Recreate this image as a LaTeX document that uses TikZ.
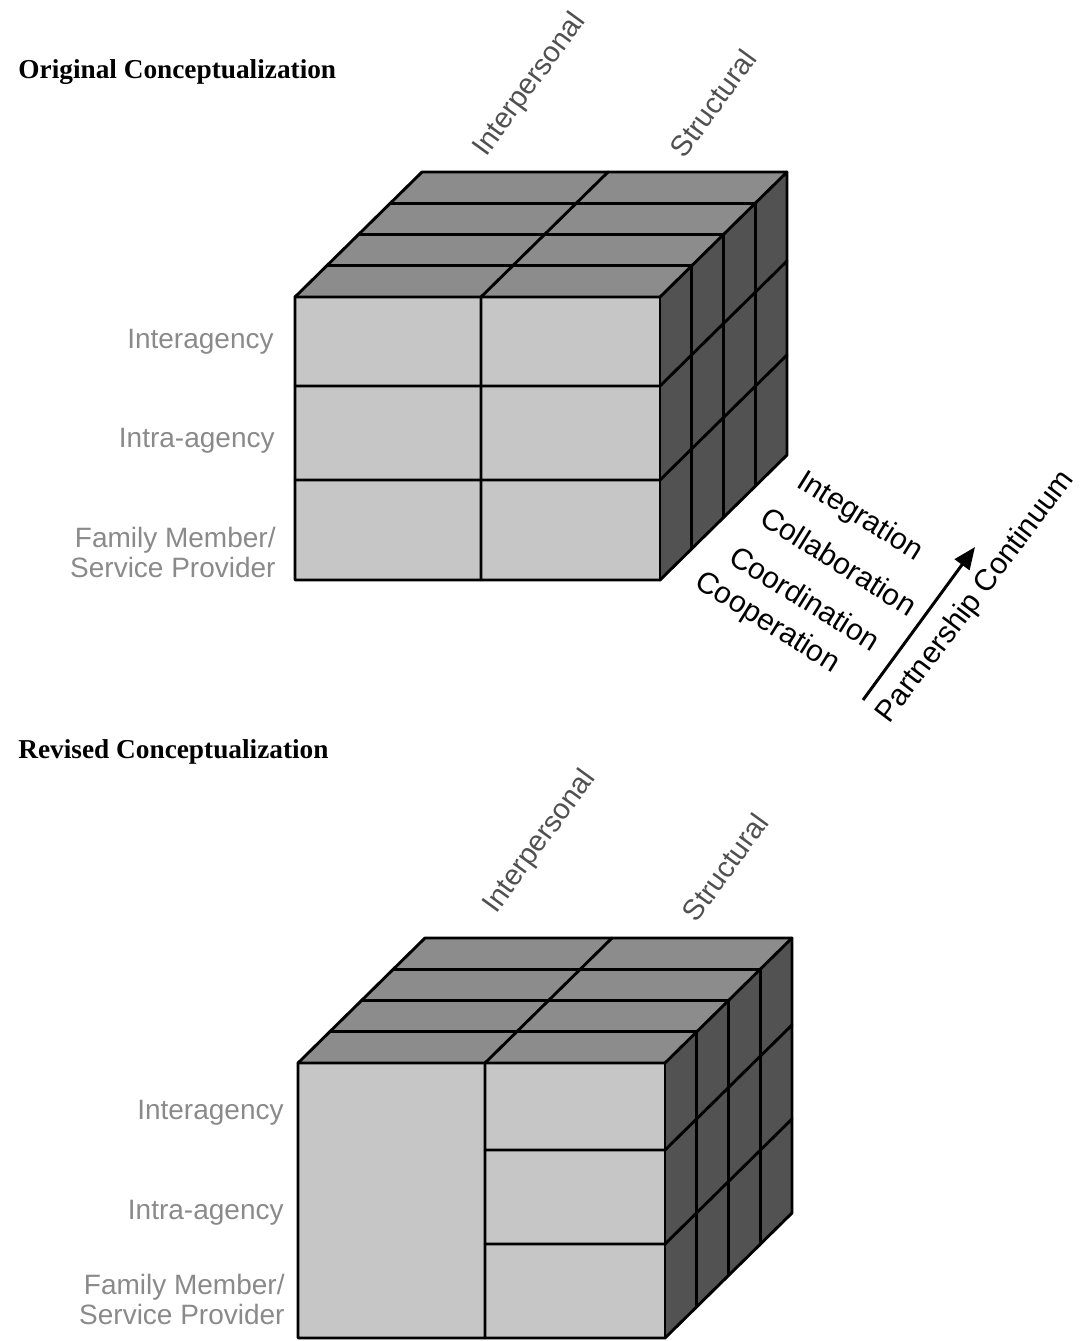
\documentclass[tikz,border=0pt]{standalone}
\usepackage{fontspec}
\setmainfont{Liberation Serif}
\setsansfont{Liberation Sans}
\usetikzlibrary{calc,arrows.meta}

\definecolor{frontgray}{HTML}{C6C6C6}
\definecolor{topgray}{HTML}{8C8C8C}
\definecolor{sidegray}{HTML}{525252}
\definecolor{rowlabel}{HTML}{8A8A8A}
\definecolor{collabel}{HTML}{505050}

\tikzset{
  edge/.style={line width=1.45pt, line join=round, line cap=round},
  title/.style={anchor=west, inner sep=0pt, font=\fontsize{13.65}{16}\selectfont\bfseries},
  rowname/.style={anchor=east, inner sep=0pt, align=right, text=rowlabel,
    font=\sffamily\fontsize{14}{15}\selectfont},
  colname/.style={inner sep=0pt, rotate=54, text=collabel,
    font=\sffamily\fontsize{14.5}{16}\selectfont},
  stagename/.style={inner sep=0pt, rotate=-32,
    font=\sffamily\fontsize{15}{16}\selectfont},
  axisname/.style={inner sep=0pt, rotate=53,
    font=\sffamily\fontsize{15}{16}\selectfont},
}

% Block cube: #1 left, #2 top, #3 right, #4 bottom, #5 first row line,
% #6 second row line, #7 middle column, #8 x where the front row lines start.
% Depth offset of the back faces is (127,-125).
\newcommand{\blockcube}[8]{%
  % faces
  \fill[topgray] (#1,#2) -- (#1+127,#2-125) -- (#3+127,#2-125) -- (#3,#2) -- cycle;
  \fill[sidegray] (#3,#2) -- (#3+127,#2-125) -- (#3+127,#4-125) -- (#3,#4) -- cycle;
  \fill[frontgray] (#1,#2) rectangle (#3,#4);
  % slices in depth
  \foreach \k in {1,2,3} {
    \draw[edge] (#1+\k*31.75,#2-\k*31.25) -- (#3+\k*31.75,#2-\k*31.25)
                -- (#3+\k*31.75,#4-\k*31.25);
  }
  % middle column on top and front
  \draw[edge] (#7+127,#2-125) -- (#7,#2) -- (#7,#4);
  % rows on the side and front
  \draw[edge] (#8,#5) -- (#3,#5) -- (#3+127,#5-125);
  \draw[edge] (#8,#6) -- (#3,#6) -- (#3+127,#6-125);
  % outline
  \draw[edge] (#1,#4) -- (#1,#2) -- (#1+127,#2-125) -- (#3+127,#2-125)
              -- (#3+127,#4-125) -- (#3,#4) -- cycle;
  \draw[edge] (#1,#2) -- (#3,#2) -- (#3+127,#2-125);
  \draw[edge] (#3,#2) -- (#3,#4);
}

\begin{document}
\begin{tikzpicture}[x=0.5pt,y=-0.5pt]
  \useasboundingbox (0,0) rectangle (1086,1341);

  % ---------- original conceptualization ----------
  \node[title] (origtitle) at (18,72) {Original Conceptualization};

  \blockcube{295}{297}{660}{580}{386}{480}{481}{295}

  \node[rowname] (oInter) at (274,342) {Interagency};
  \node[rowname] (oIntra) at (275,441) {Intra-agency};
  \node[rowname] (oFamily) at (276,552) {Family Member/\\Service Provider};

  \node[colname] (oInterp) at (530,85) {Interpersonal};
  \node[colname] (oStruct) at (713,103) {Structural};

  \node[stagename] (integ) at (860,517) {Integration};
  \node[stagename] (collab) at (839,561) {Collaboration};
  \node[stagename] (coord) at (805,598) {Coordination};
  \node[stagename] (coop) at (767,623) {Cooperation};

  \coordinate (arrtail) at (863,700);
  \coordinate (arrtip) at (975,547);
  \draw[line width=1.5pt, -{Triangle[length=11pt,width=9pt]}] (arrtail) -- (arrtip);
  \node[axisname] (continuum) at (976,597) {Partnership Continuum};

  % ---------- revised conceptualization ----------
  \node[title] (revtitle) at (18,752) {Revised Conceptualization};

  \blockcube{298}{1063}{665}{1338}{1150}{1244}{485}{485}

  \node[rowname] (rInter) at (284,1113) {Interagency};
  \node[rowname] (rIntra) at (284,1213) {Intra-agency};
  \node[rowname] (rFamily) at (285,1299) {Family Member/\\Service Provider};

  \node[colname] (rInterp) at (540,842) {Interpersonal};
  \node[colname] (rStruct) at (725,867) {Structural};
\end{tikzpicture}
\end{document}
